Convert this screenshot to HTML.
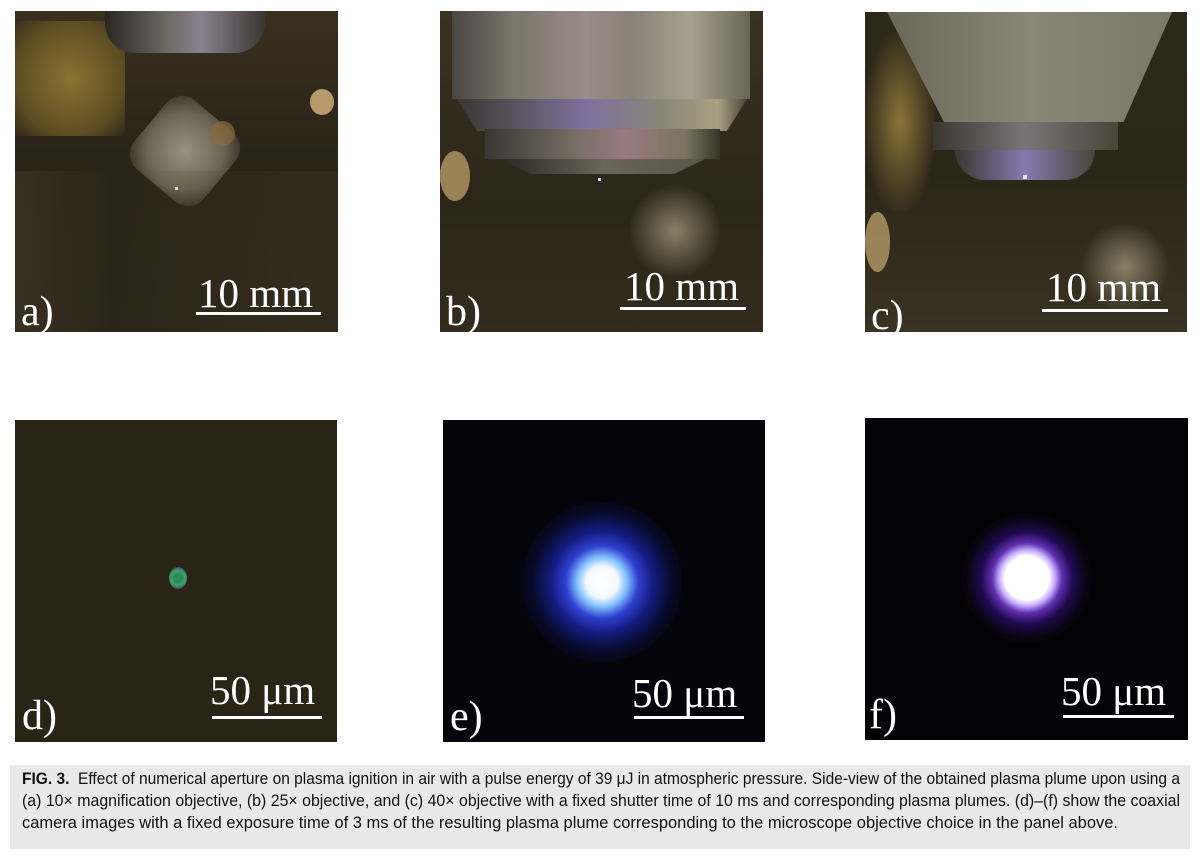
<!DOCTYPE html>
<html><head><meta charset="utf-8">
<style>
body{margin:0;width:1200px;height:859px;background:#fff;position:relative;overflow:hidden;font-family:"Liberation Serif",serif}
.p{position:absolute;overflow:hidden}
.a{position:absolute}
.lbl{position:absolute;color:#fff;font-family:"Liberation Serif",serif;font-size:42px;line-height:1}
.sb{position:absolute;color:#fff;font-family:"Liberation Serif",serif;font-size:41px;line-height:1;white-space:nowrap}
.bar{position:absolute;height:3px;background:#fff}
.cap{position:absolute;left:10px;top:765px;width:1180px;height:84px;background:#e9e9ea}
.ln{position:absolute;left:12px;font-family:"Liberation Sans",sans-serif;font-size:17px;color:#111;white-space:nowrap;transform-origin:0 0}
</style></head><body>

<!-- Panel a -->
<div class="p" style="left:15px;top:11px;width:323px;height:321px;background:linear-gradient(180deg,#3a3020 0%,#2a2317 45%,#2b2519 100%)">
  <div class="a" style="left:0;top:10px;width:110px;height:115px;background:radial-gradient(ellipse at 50% 50%,#8a7432,#5c4c22 70%,rgba(60,50,25,0) 100%)"></div>
  <div class="a" style="left:90px;top:0;width:160px;height:42px;border-radius:0 0 30px 30px;background:linear-gradient(90deg,#2a2620,#6e6a66 40%,#8a8290 60%,#3a3630)"></div>
  <div class="a" style="left:125px;top:95px;width:90px;height:90px;border-radius:20px;background:radial-gradient(circle,#9a9280,#6b6454 60%,rgba(60,55,45,0) 100%);transform:rotate(40deg)"></div>
  <div class="a" style="left:295px;top:78px;width:24px;height:26px;border-radius:50%;background:#b79a6b"></div>
  <div class="a" style="left:195px;top:110px;width:25px;height:25px;border-radius:50%;background:#8c6a3c;opacity:.7"></div>
  <div class="a" style="left:0;top:160px;width:323px;height:161px;background:linear-gradient(90deg,rgba(70,60,40,.5),rgba(40,35,25,0) 30%,rgba(70,60,40,.3) 90%)"></div>
  <div class="a" style="left:160px;top:176px;width:3px;height:3px;background:#cfd8ff"></div>
  <div class="lbl" style="left:6px;top:280px">a)</div>
  <div class="sb" style="left:183px;top:262px">10 mm</div>
  <div class="bar" style="left:181px;top:301px;width:125px"></div>
</div>

<!-- Panel b -->
<div class="p" style="left:440px;top:11px;width:323px;height:321px;background:linear-gradient(180deg,#3a3223 0%,#2c2619 60%,#332b1d 100%)">
  <div class="a" style="left:0;top:140px;width:30px;height:50px;border-radius:50%;background:#b69a64;opacity:.8"></div>
  <div class="a" style="left:12px;top:0;width:298px;height:88px;background:linear-gradient(90deg,#4a4640,#7a746a 20%,#9a8c88 45%,#8a8278 60%,#a8a090 80%,#6a6458)"></div>
  <div class="a" style="left:17px;top:88px;width:290px;height:32px;background:linear-gradient(90deg,#3a3630,#6a6078 30%,#8070a0 45%,#8a8478 70%,#a8a080 90%,#4a4438);clip-path:polygon(0 0,100% 0,93% 100%,7% 100%)"></div>
  <div class="a" style="left:45px;top:118px;width:235px;height:30px;background:linear-gradient(90deg,#3a3630,#7a7068 40%,#9a7a80 60%,#7a7460 85%,#3a3428)"></div>
  <div class="a" style="left:60px;top:148px;width:205px;height:15px;background:linear-gradient(90deg,#2a2620,#6a645a 50%,#5a544a);clip-path:polygon(0 0,100% 0,85% 100%,15% 100%)"></div>
  <div class="a" style="left:158px;top:167px;width:3px;height:3px;background:#cfd8ff"></div>
  <div class="a" style="left:190px;top:170px;width:90px;height:100px;border-radius:30px;background:radial-gradient(circle,#8a8068,rgba(60,55,40,0) 70%)"></div>
  <div class="lbl" style="left:6px;top:280px">b)</div>
  <div class="sb" style="left:184px;top:255px">10 mm</div>
  <div class="bar" style="left:180px;top:296px;width:126px"></div>
</div>

<!-- Panel c -->
<div class="p" style="left:865px;top:12px;width:322px;height:320px;background:linear-gradient(180deg,#2e2818 0%,#2c2619 50%,#3a3222 100%)">
  <div class="a" style="left:0;top:20px;width:70px;height:180px;background:radial-gradient(ellipse,#8a7438,rgba(80,65,30,0) 75%)"></div>
  <div class="a" style="left:0;top:200px;width:25px;height:60px;border-radius:50%;background:#b39a68;opacity:.8"></div>
  <div class="a" style="left:22px;top:0;width:285px;height:110px;background:linear-gradient(90deg,#6a6858,#8a8678 50%,#7a7868);clip-path:polygon(0 0,100% 0,83% 100%,20% 100%)"></div>
  <div class="a" style="left:68px;top:110px;width:185px;height:28px;background:linear-gradient(90deg,#3a3630,#7a7478 50%,#4a4438)"></div>
  <div class="a" style="left:90px;top:138px;width:140px;height:30px;border-radius:0 0 70px 70px;background:linear-gradient(90deg,#3a3630,#8a78b0 50%,#4a4438)"></div>
  <div class="a" style="left:158px;top:163px;width:4px;height:4px;background:#e0e8ff"></div>
  <div class="a" style="left:215px;top:210px;width:90px;height:90px;border-radius:30px;background:radial-gradient(circle,#8a8068,rgba(60,55,40,0) 70%)"></div>
  <div class="lbl" style="left:6px;top:283px">c)</div>
  <div class="sb" style="left:181px;top:255px">10 mm</div>
  <div class="bar" style="left:177px;top:297px;width:126px"></div>
</div>

<!-- Panel d -->
<div class="p" style="left:15px;top:420px;width:322px;height:322px;background:#2a2417">
  <div class="a" style="left:154px;top:147px;width:18px;height:22px;border-radius:50%;background:radial-gradient(circle,#2a8a5a 30%,#3aa860 50%,#4a3a80 80%,rgba(40,36,23,0) 100%)"></div>
  <div class="lbl" style="left:7px;top:275px">d)</div>
  <div class="sb" style="left:195px;top:250px">50 μm</div>
  <div class="bar" style="left:197px;top:296px;width:110px"></div>
</div>

<!-- Panel e -->
<div class="p" style="left:443px;top:420px;width:322px;height:322px;background:#04040a">
  <div class="a" style="left:79px;top:82px;width:160px;height:160px;border-radius:50%;background:radial-gradient(circle,#ffffff 0%,#f4f8ff 14%,#80c0ff 22%,#3040d0 32%,#141c80 45%,#070a28 62%,rgba(4,4,10,0) 78%)"></div>
  <div class="lbl" style="left:7px;top:276px">e)</div>
  <div class="sb" style="left:189px;top:253px">50 μm</div>
  <div class="bar" style="left:191px;top:296px;width:110px"></div>
</div>

<!-- Panel f -->
<div class="p" style="left:865px;top:418px;width:323px;height:322px;background:#030305">
  <div class="a" style="left:97px;top:95px;width:130px;height:130px;border-radius:50%;background:radial-gradient(circle,#ffffff 0%,#ffffff 24%,#c8b0ff 30%,#6030b0 38%,#200a50 50%,#08040f 66%,rgba(3,3,5,0) 78%)"></div>
  <div class="lbl" style="left:4px;top:276px">f)</div>
  <div class="sb" style="left:196px;top:253px">50 μm</div>
  <div class="bar" style="left:198px;top:297px;width:111px"></div>
</div>

<!-- Caption -->
<div class="cap">
  <div class="ln fit" data-w="1158" style="top:4px"><b>FIG. 3.</b>&nbsp; Effect of numerical aperture on plasma ignition in air with a pulse energy of 39 μJ in atmospheric pressure. Side-view of the obtained plasma plume upon using a</div>
  <div class="ln fit" data-w="1158" style="top:26px">(a) 10× magnification objective, (b) 25× objective, and (c) 40× objective with a fixed shutter time of 10 ms and corresponding plasma plumes. (d)–(f) show the coaxial</div>
  <div class="ln fit" data-w="1096" style="top:48px">camera images with a fixed exposure time of 3 ms of the resulting plasma plume corresponding to the microscope objective choice in the panel above.</div>
</div>
<script>
document.querySelectorAll('.fit').forEach(function(el){
  var w = el.getBoundingClientRect().width;
  var t = parseFloat(el.getAttribute('data-w'));
  el.style.transform = 'scaleX(' + (t / w) + ')';
});
</script>
</body></html>
